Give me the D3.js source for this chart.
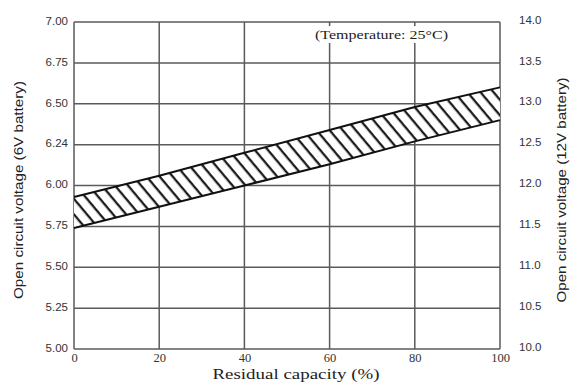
<!DOCTYPE html>
<html>
<head>
<meta charset="utf-8">
<script src="https://cdn.jsdelivr.net/npm/d3@7"></script>
<style>
  html, body { margin: 0; padding: 0; background: #fff; }
  svg { display: block; }
</style>
</head>
<body>
<svg id="chart" width="572" height="383"></svg>
<script>
// Residual capacity (%) and the open-circuit voltage band (6V battery scale)
const capacity = [0, 20, 40, 60, 80, 100];
const upperVoltage = [5.93, 6.06, 6.20, 6.34, 6.48, 6.60];
const lowerVoltage = [5.74, 5.87, 6.00, 6.13, 6.27, 6.40];

// Axis ticks
const xTicks = [0, 20, 40, 60, 80, 100];
const leftTicks = [5.00, 5.25, 5.50, 5.75, 6.00, 6.25, 6.50, 6.75, 7.00];
const leftTickLabels = ["5.00", "5.25", "5.50", "5.75", "6.00", "6.24", "6.50", "6.75", "7.00"];
const rightTicks = [10.0, 10.5, 11.0, 11.5, 12.0, 12.5, 13.0, 13.5, 14.0];
const rightTickLabels = ["10.0", "10.5", "11.0", "11.5", "12.0", "12.5", "13.0", "13.5", "14.0"];

const svg = d3.select("#chart");
const plotLeft = 74, plotRight = 500, plotTop = 22, plotBottom = 349;

const x = d3.scaleLinear().domain([0, 100]).range([plotLeft, plotRight]);
const y = d3.scaleLinear().domain([5, 7]).range([plotBottom, plotTop]);
const y12 = d3.scaleLinear().domain([10, 14]).range([plotBottom, plotTop]);

const band = capacity.map((c, i) => ({ c, lo: lowerVoltage[i], hi: upperVoltage[i] }));

// Hatch pattern for the band
const defs = svg.append("defs");
const hatchGap = 10;
const pat = defs.append("pattern")
  .attr("id", "hatch")
  .attr("patternUnits", "userSpaceOnUse")
  .attr("width", hatchGap).attr("height", hatchGap)
  .attr("patternTransform", "rotate(50)");
pat.append("rect").attr("width", hatchGap).attr("height", hatchGap).attr("fill", "#fff");
pat.append("line")
  .attr("x1", 0).attr("y1", 1.2).attr("x2", hatchGap).attr("y2", 1.2)
  .attr("stroke", "#111").attr("stroke-width", 2.2);

// Grid
const gridColor = "#5a5a5a";
const grid = svg.append("g");
grid.selectAll("line.h").data(leftTicks).join("line")
  .attr("x1", plotLeft).attr("x2", plotRight)
  .attr("y1", d => y(d)).attr("y2", d => y(d))
  .attr("stroke", gridColor).attr("stroke-width", 1.5);
grid.selectAll("line.v").data(xTicks).join("line")
  .attr("y1", plotTop).attr("y2", plotBottom)
  .attr("x1", d => x(d)).attr("x2", d => x(d))
  .attr("stroke", gridColor).attr("stroke-width", 1.5);

// Band
const area = d3.area().x(d => x(d.c)).y0(d => y(d.lo)).y1(d => y(d.hi));
svg.append("path").datum(band).attr("d", area).attr("fill", "url(#hatch)");
const upperLine = d3.line().x(d => x(d.c)).y(d => y(d.hi));
const lowerLine = d3.line().x(d => x(d.c)).y(d => y(d.lo));
svg.append("path").datum(band).attr("d", upperLine).attr("fill", "none").attr("stroke", "#111").attr("stroke-width", 2);
svg.append("path").datum(band).attr("d", lowerLine).attr("fill", "none").attr("stroke", "#111").attr("stroke-width", 2);

// Temperature note with white backing over the grid
const note = svg.append("g");
note.append("rect").attr("x", 314).attr("y", 26).attr("width", 136).attr("height", 17).attr("fill", "#fff");
note.append("text").attr("x", 315).attr("y", 39)
  .attr("font-family", "Liberation Serif, serif").attr("font-size", 13.5)
  .attr("textLength", 133).attr("lengthAdjust", "spacingAndGlyphs")
  .attr("fill", "#222").text("(Temperature: 25°C)");

// Axes
const tickFont = "Liberation Sans, Arial, sans-serif";
const leftAxis = d3.axisLeft(y).tickValues(leftTicks)
  .tickFormat((d, i) => leftTickLabels[i]).tickSize(0).tickPadding(6);
const gL = svg.append("g").attr("transform", `translate(${plotLeft},0)`).call(leftAxis);
gL.select(".domain").remove();
gL.selectAll("text").attr("font-family", tickFont).attr("font-size", 11.5).attr("fill", "#333").attr("dy", "0.2em");

const rightAxis = d3.axisRight(y12).tickValues(rightTicks)
  .tickFormat((d, i) => rightTickLabels[i]).tickSize(0).tickPadding(19);
const gR = svg.append("g").attr("transform", `translate(${plotRight},0)`).call(rightAxis);
gR.select(".domain").remove();
gR.selectAll("text").attr("font-family", tickFont).attr("font-size", 11.5).attr("fill", "#333").attr("dy", "0.1em");

const bottomAxis = d3.axisBottom(x).tickValues(xTicks).tickSize(0).tickPadding(4);
const gB = svg.append("g").attr("transform", `translate(0,${plotBottom})`).call(bottomAxis);
gB.select(".domain").remove();
gB.selectAll("text").attr("font-family", "Liberation Serif, serif").attr("font-size", 12.5).attr("fill", "#333");

// Axis titles
svg.append("text").attr("x", 296).attr("y", 379)
  .attr("text-anchor", "middle").attr("font-family", "Liberation Serif, serif")
  .attr("font-size", 15).attr("textLength", 167).attr("lengthAdjust", "spacingAndGlyphs")
  .attr("fill", "#222").text("Residual capacity (%)");
svg.append("text")
  .attr("transform", "translate(23,190) rotate(-90)")
  .attr("text-anchor", "middle").attr("font-family", tickFont)
  .attr("font-size", 13).attr("textLength", 218).attr("lengthAdjust", "spacingAndGlyphs")
  .attr("fill", "#222").text("Open circuit voltage (6V battery)");
svg.append("text")
  .attr("transform", "translate(566,190) rotate(-90)")
  .attr("text-anchor", "middle").attr("font-family", tickFont)
  .attr("font-size", 13).attr("textLength", 225).attr("lengthAdjust", "spacingAndGlyphs")
  .attr("fill", "#222").text("Open circuit voltage (12V battery)");
</script>
</body>
</html>
